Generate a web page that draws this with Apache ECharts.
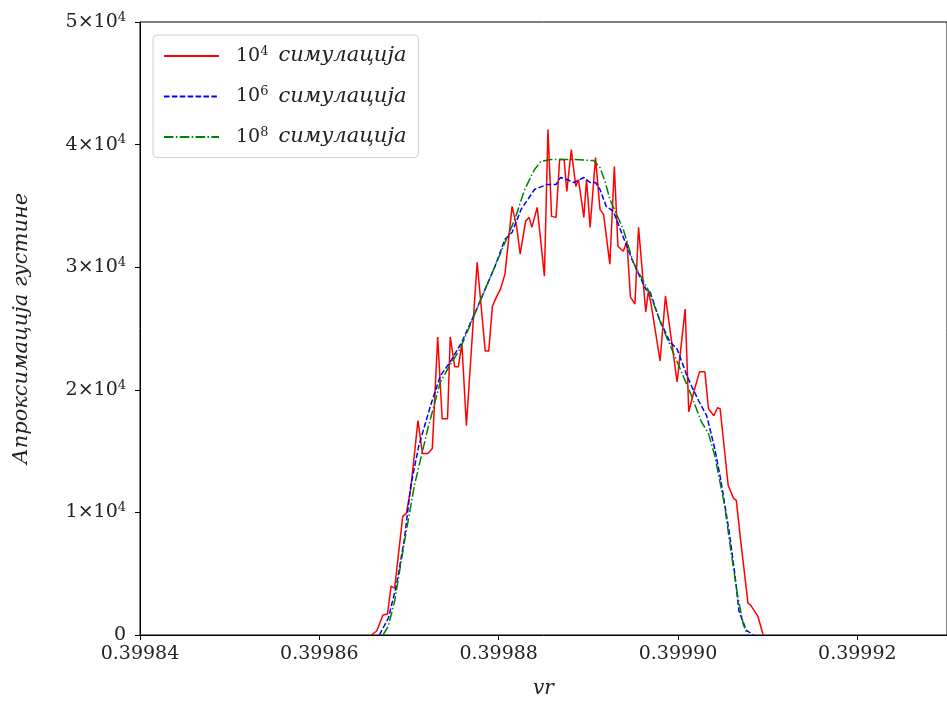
<!DOCTYPE html>
<html lang="en">

<head>
    <meta charset="UTF-8">
    <title>Апроксимација густине</title>
    <script src="https://cdn.jsdelivr.net/npm/echarts@6/dist/echarts.min.js"></script>
    <style>
        html,
        body {
            margin: 0px;
            width: 100%;
            height: 100%;
            background-color: white;
        }

        #chart {
            width: 947px;
            height: 704px;
        }
    </style>
</head>

<body>
    <div id="chart"></div>
    <script>
        // tick labels
        var xTicks = [0.39984, 0.39986, 0.39988, 0.39990, 0.39992];
        var yTicks = [0, 10000, 20000, 30000, 40000, 50000];
        var legendPow = ['4', '6', '8'];
        var names = ['10^4 симулација', '10^6 симулација', '10^8 симулација'];

        // 10^4 simulations (red, noisy)
        var sim4 = [
            [0.3998658, 0], [0.3998664, 325], [0.3998671, 1626], [0.3998676, 1707], [0.3998680, 3984],
            [0.3998684, 3821], [0.3998693, 9675], [0.3998697, 9919], [0.3998702, 11951], [0.3998704, 12114],
            [0.3998710, 17480], [0.3998715, 14797], [0.3998721, 14797], [0.3998726, 15203], [0.3998732, 24309],
            [0.3998737, 17642], [0.3998743, 17642], [0.3998746, 24309], [0.3998751, 21870], [0.3998755, 21870],
            [0.3998759, 23740], [0.3998764, 17073], [0.3998776, 30407], [0.3998785, 23171], [0.3998789, 23171],
            [0.3998793, 26829], [0.3998798, 27642], [0.3998802, 28211], [0.3998807, 29431], [0.3998815, 34959],
            [0.3998820, 33333], [0.3998824, 31057], [0.3998830, 33740], [0.3998834, 34065], [0.3998837, 33252],
            [0.3998843, 34878], [0.3998851, 29268], [0.3998855, 41220], [0.3998859, 34146], [0.3998864, 34065],
            [0.3998868, 38780], [0.3998873, 38780], [0.3998876, 36179], [0.3998881, 39593], [0.3998886, 36585],
            [0.3998889, 37154], [0.3998895, 34065], [0.3998898, 37154], [0.3998902, 33252], [0.3998908, 38943],
            [0.3998913, 34715], [0.3998917, 34309], [0.3998924, 30244], [0.3998929, 38211], [0.3998933, 31707],
            [0.3998939, 31301], [0.3998943, 32114], [0.3998947, 27561], [0.3998952, 26992], [0.3998956, 33252],
            [0.3998964, 26341], [0.3998967, 28049], [0.3998970, 26992], [0.3998980, 22358], [0.3998986, 27642],
            [0.3998999, 20650], [0.3999008, 26585], [0.3999012, 18211], [0.3999018, 19919], [0.3999024, 21463],
            [0.3999030, 21463], [0.3999034, 18455], [0.3999040, 17886], [0.3999044, 18537], [0.3999047, 18455],
            [0.3999056, 12195], [0.3999062, 11138], [0.3999065, 10976], [0.3999070, 7642], [0.3999078, 2602],
            [0.3999081, 2439], [0.3999089, 1545], [0.3999095, 0]
        ];

        // 10^6 simulations (blue, dashed)
        var sim6 = [
            [0.3998667, 0], [0.3998677, 1382], [0.3998686, 4065], [0.3998695, 7886], [0.3998702, 12195],
            [0.3998711, 15447], [0.3998724, 18699], [0.3998735, 21138], [0.3998746, 22276], [0.3998759, 23902],
            [0.3998774, 26341], [0.3998785, 28211], [0.3998796, 30081], [0.3998807, 32276], [0.3998815, 32846],
            [0.3998825, 34715], [0.3998840, 36341], [0.3998854, 36748], [0.3998864, 36748], [0.3998869, 37317],
            [0.3998876, 37154], [0.3998884, 36911], [0.3998895, 37317], [0.3998902, 36911], [0.3998908, 36911],
            [0.3998913, 36341], [0.3998920, 34959], [0.3998928, 34553], [0.3998939, 32439], [0.3998950, 30407],
            [0.3998964, 28211], [0.3998969, 27967], [0.3998979, 25772], [0.3998991, 23902], [0.3998999, 23333],
            [0.3999010, 21138], [0.3999015, 20325], [0.3999023, 19106], [0.3999032, 17886], [0.3999041, 15203],
            [0.3999048, 12520], [0.3999057, 8455], [0.3999063, 5203], [0.3999068, 1951], [0.3999076, 407],
            [0.3999084, 0]
        ];

        // 10^8 simulations (green, dash-dot)
        var sim8 = [
            [0.3998671, 0], [0.3998677, 732], [0.3998684, 2764], [0.3998695, 7642], [0.3998706, 12195],
            [0.3998721, 16829], [0.3998735, 20650], [0.3998746, 22033], [0.3998757, 23333], [0.3998785, 28211],
            [0.3998818, 33902], [0.3998829, 36341], [0.3998840, 37967], [0.3998847, 38618], [0.3998858, 38780],
            [0.3998884, 38780], [0.3998906, 38699], [0.3998913, 38130], [0.3998919, 36911], [0.3998924, 35528],
            [0.3998939, 33089], [0.3998950, 30407], [0.3998968, 27967], [0.3998982, 25203], [0.3999001, 21951],
            [0.3999015, 19512], [0.3999026, 17398], [0.3999034, 16423], [0.3999041, 14634], [0.3999052, 10569],
            [0.3999059, 6829], [0.3999067, 3008], [0.3999073, 813], [0.3999078, 0]
        ];

        var serif = "'DejaVu Serif', 'Liberation Serif', serif";
        var chart = echarts.init(document.getElementById('chart'), null, { renderer: 'canvas' });

        function yLabel(v) {
            if (v === 0) return '{m|0}';
            return '{m|' + Math.round(v / 10000) + '×10}{s|4}';
        }

        chart.setOption({
            animation: false,
            backgroundColor: '#fff',
            grid: {
                left: 140, top: 22, bottom: 67, right: -12,
                show: true, borderColor: '#000', borderWidth: 1
            },
            legend: {
                orient: 'vertical',
                left: 153, top: 35,
                padding: [10, 12, 10, 10],
                itemGap: 19,
                itemWidth: 55,
                itemHeight: 20,
                borderColor: '#d0d0d0',
                borderWidth: 1,
                borderRadius: 4,
                backgroundColor: '#fff',
                itemStyle: { opacity: 0 },
                data: names,
                formatter: function (name) {
                    var i = names.indexOf(name);
                    return '{n|10}{s|' + legendPow[i] + '}{i|симулација}';
                },
                textStyle: {
                    padding: [0, 0, 0, 12],
                    rich: {
                        n: { fontFamily: serif, fontSize: 19, color: '#222', lineHeight: 22 },
                        s: { fontFamily: serif, fontSize: 13, color: '#222', verticalAlign: 'top', lineHeight: 12 },
                        i: { fontFamily: serif, fontStyle: 'italic', fontSize: 21, color: '#222', lineHeight: 22, padding: [0, 0, 0, 10] }
                    }
                }
            },
            xAxis: {
                type: 'value',
                min: 0.39984,
                max: 0.39993,
                interval: 0.00002,
                name: 'vr',
                nameLocation: 'middle',
                nameGap: 44,
                nameTextStyle: { fontFamily: serif, fontStyle: 'italic', fontSize: 20, color: '#222' },
                axisLine: { lineStyle: { color: '#000', width: 1 } },
                axisTick: { show: true, length: 5, lineStyle: { color: '#000' } },
                splitLine: { show: false },
                axisLabel: {
                    margin: 10,
                    showMaxLabel: false,
                    fontFamily: serif, fontSize: 19, color: '#222',
                    formatter: function (v) {
                        for (var k = 0; k < xTicks.length; k++) {
                            if (Math.abs(v - xTicks[k]) < 1e-9) return xTicks[k].toFixed(5);
                        }
                        return '';
                    }
                }
            },
            yAxis: {
                type: 'value',
                min: yTicks[0],
                max: yTicks[yTicks.length - 1],
                interval: 10000,
                name: 'Апроксимација густине',
                nameLocation: 'middle',
                nameGap: 108,
                nameTextStyle: { fontFamily: serif, fontStyle: 'italic', fontSize: 21, color: '#222' },
                axisLine: { show: true, lineStyle: { color: '#000', width: 1 } },
                axisTick: { show: true, length: 5, lineStyle: { color: '#000' } },
                splitLine: { show: false },
                axisLabel: {
                    margin: 14,
                    formatter: yLabel,
                    rich: {
                        m: { fontFamily: serif, fontSize: 19, color: '#222', lineHeight: 22 },
                        s: { fontFamily: serif, fontSize: 13, color: '#222', verticalAlign: 'top', lineHeight: 12 }
                    }
                }
            },
            series: [
                {
                    name: names[0], type: 'line', data: sim4, symbol: 'none',
                    lineStyle: { color: '#ff0000', width: 1.5 }, itemStyle: { color: '#ff0000' }, z: 2
                },
                {
                    name: names[1], type: 'line', data: sim6, symbol: 'none',
                    lineStyle: { color: '#0000ff', width: 1.5, type: [5.5, 2.4] }, itemStyle: { color: '#0000ff' }, z: 3
                },
                {
                    name: names[2], type: 'line', data: sim8, symbol: 'none',
                    lineStyle: { color: '#008000', width: 1.5, type: [9.5, 2.4, 1.5, 2.4] }, itemStyle: { color: '#008000' }, z: 4
                }
            ]
        });
    </script>
</body>

</html>
